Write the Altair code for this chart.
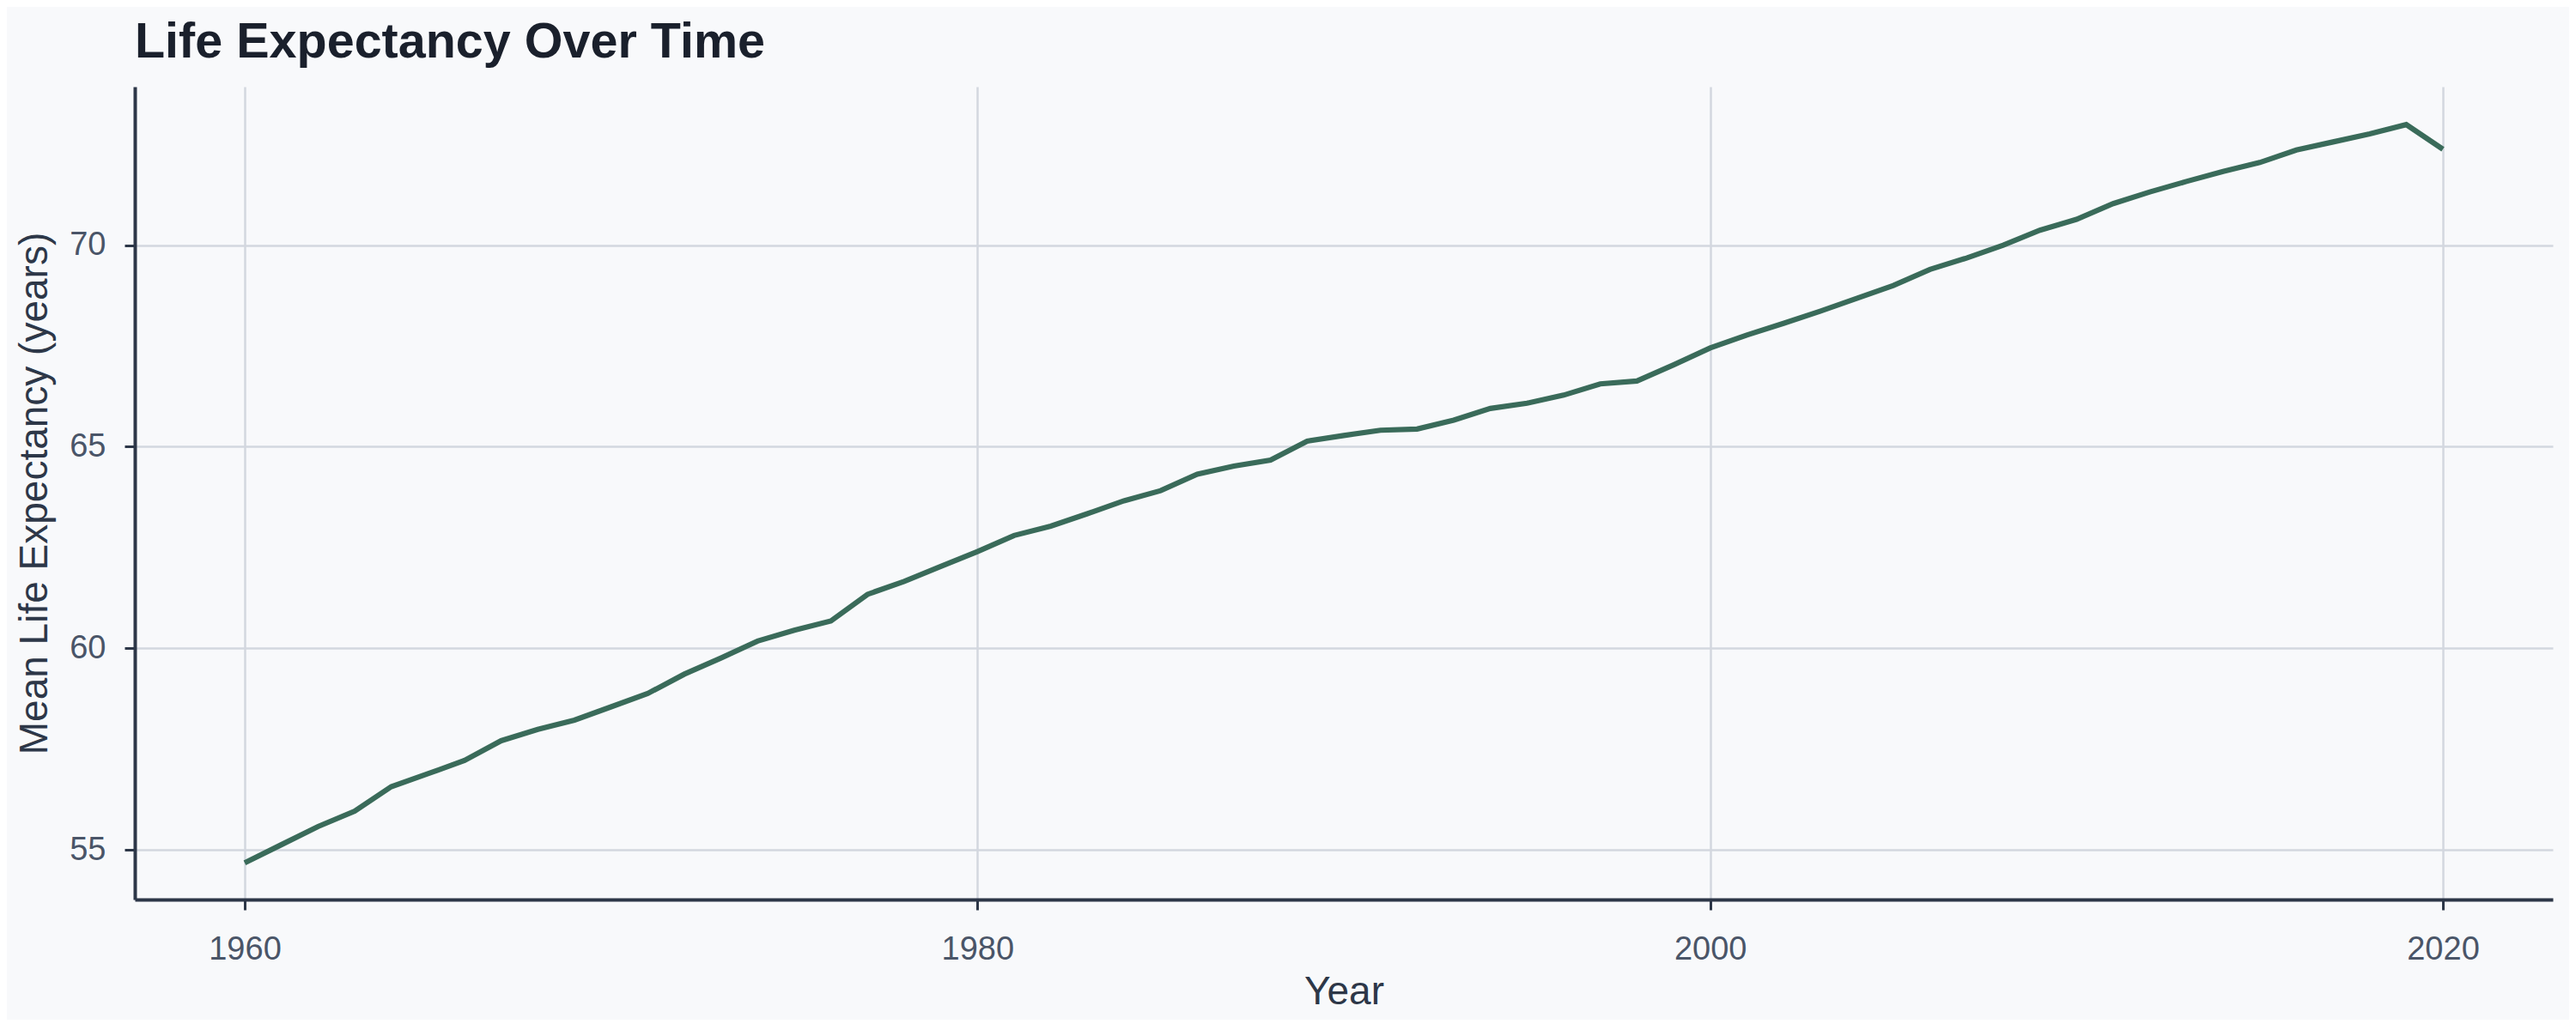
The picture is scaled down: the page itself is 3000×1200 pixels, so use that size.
import altair as alt
import pandas as pd

years = list(range(1960, 2021))
life_expectancy = [
    54.68, 55.13, 55.58, 55.96, 56.57, 56.89, 57.22, 57.71, 57.99, 58.22,
    58.55, 58.88, 59.36, 59.76, 60.18, 60.45, 60.68, 61.34, 61.66, 62.03,
    62.40, 62.80, 63.03, 63.34, 63.66, 63.91, 64.32, 64.52, 64.67, 65.14,
    65.28, 65.41, 65.44, 65.66, 65.95, 66.08, 66.28, 66.56, 66.63, 67.03,
    67.45, 67.77, 68.06, 68.36, 68.68, 69.00, 69.40, 69.68, 70.00, 70.37,
    70.64, 71.03, 71.32, 71.58, 71.83, 72.05, 72.36, 72.56, 72.76, 72.99,
    72.38,
]
x_ticks = [1960, 1980, 2000, 2020]
y_ticks = [55, 60, 65, 70]

df = pd.DataFrame({"Year": years, "LifeExp": life_expectancy})

FONT = "Liberation Sans"

chart = (
    alt.Chart(df)
    .mark_line(color="#3a6b5a", strokeWidth=6.2, strokeJoin="miter")
    .encode(
        x=alt.X(
            "Year:Q",
            scale=alt.Scale(domain=[1957, 2023], nice=False, zero=False),
            axis=alt.Axis(
                values=x_ticks,
                format="d",
                title="Year",
                labelPadding=27,
                titlePadding=8,
            ),
        ),
        y=alt.Y(
            "LifeExp:Q",
            scale=alt.Scale(domain=[53.77, 73.93], nice=False, zero=False),
            axis=alt.Axis(
                values=y_ticks,
                title="Mean Life Expectancy (years)",
                labelPadding=22,
                titlePadding=16,
            ),
        ),
    )
    .properties(
        width=2816,
        height=947,
        autosize=alt.AutoSizeParams(type="none"),
        padding={"left": 149, "top": 93, "right": 19, "bottom": 140},
        background="#f8f9fb",
        title=alt.TitleParams(
            "Life Expectancy Over Time",
            anchor="start",
            frame="group",
            font=FONT,
            fontSize=57.5,
            fontWeight="bold",
            color="#1a202c",
            offset=22,
        ),
    )
    .configure_view(stroke=None, fill="#f8f9fb")
    .configure_axis(
        labelFont=FONT,
        labelFontSize=38,
        labelColor="#4a5568",
        titleFont=FONT,
        titleFontSize=46,
        titleFontWeight="normal",
        titleColor="#2d3748",
        domainColor="#2d3748",
        domainWidth=4,
        tickColor="#2d3748",
        tickWidth=3,
        tickSize=12,
        gridColor="#d3d7df",
        gridWidth=2.5,
        grid=True,
    )
)

chart.save("out.html", embed_options={"renderer": "svg", "actions": False})
